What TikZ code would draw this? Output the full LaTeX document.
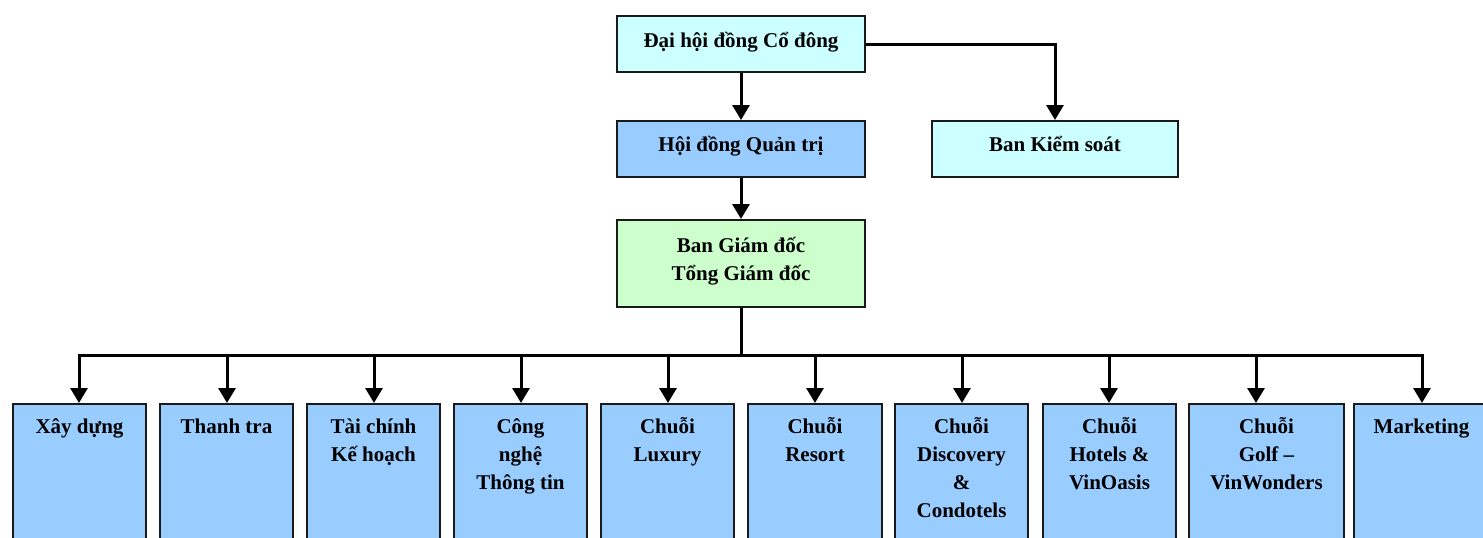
\documentclass[tikz,border=0pt]{standalone}
\usepackage{fontspec}
\setmainfont{Liberation Serif}
\usetikzlibrary{arrows.meta}
\definecolor{cyanbox}{HTML}{CCFFFF}
\definecolor{bluebox}{HTML}{99CCFF}
\definecolor{greenbox}{HTML}{CCFFCC}
\definecolor{edge}{HTML}{1A1A1A}
\begin{document}
\begin{tikzpicture}[x=1pt,y=-1pt,
  box/.style={draw=edge, line width=2pt, rectangle, inner sep=0pt},
  txt/.style={font=\bfseries\fontsize{21}{28}\selectfont, align=center, inner sep=0pt, text=black},
  conn/.style={draw=black, line width=3pt, -{Triangle[width=17pt,length=15pt]}},
  bus/.style={draw=black, line width=3pt, line cap=rect}]
\path[use as bounding box] (0,0) rectangle (1483,538);
\clip (0,0) rectangle (1483,538);
% top level
\node[box, fill=cyanbox, minimum width=248pt, minimum height=56pt] (dhcd) at (741,44) {};
\node[txt, anchor=base] (dhcdt) at (741,47) {Đại hội đồng Cổ đông};
\node[box, fill=bluebox, minimum width=248pt, minimum height=56pt] (hdqt) at (741,149) {};
\node[txt, anchor=base] (hdqtt) at (741,151) {Hội đồng Quản trị};
\node[box, fill=cyanbox, minimum width=246pt, minimum height=56pt] (bks) at (1055,149) {};
\node[txt, anchor=base] (bkst) at (1055,151) {Ban Kiểm soát};
\node[box, fill=greenbox, minimum width=248pt, minimum height=87pt] (bgd) at (741,263.5) {};
\node[txt, anchor=north] (bgdt) at (741,231) {\rule{0pt}{21pt}Ban Giám đốc\\Tổng Giám đốc};
\draw[conn] (dhcd.south) -- (hdqt.north);
\draw[conn] (dhcd.east) -| (bks.north);
\draw[conn] (hdqt.south) -- (bgd.north);
% bus
\coordinate (hub) at (741,355);
\draw[line width=3pt] (bgd.south) -- (hub);
\coordinate (busl) at (79,355);
\coordinate (busr) at (1422,355);
\draw[bus] (busl) -- (busr);
% departments
\foreach \l/\r/\a/\t [count=\i] in {
  12/147/79/{Xây dựng},
  159/294/227/{Thanh tra},
  306/441/374/{Tài chính\\Kế hoạch},
  453/588/521/{Công\\nghệ\\Thông tin},
  600/735/668/{Chuỗi\\Luxury},
  747/883/815/{Chuỗi\\Resort},
  894/1029/962/{Chuỗi\\Discovery\\\&\\Condotels},
  1042/1177/1109/{Chuỗi\\Hotels \&\\VinOasis},
  1188/1345/1256/{Chuỗi\\Golf –\\VinWonders},
  1353/1490/1422/{Marketing}} {
  \node[box, fill=bluebox, anchor=north, minimum width={\r-\l-2}, minimum height=200pt] (b\i) at ({(\l+\r)/2},403) {};
  \node[txt, anchor=north] (t\i) at ({(\l+\r)/2},412) {\rule{0pt}{21pt}\t};
  \coordinate (a\i) at (\a,355);
  \draw[conn] (a\i) -- (a\i |- b\i.north);
}
\end{tikzpicture}
\end{document}
